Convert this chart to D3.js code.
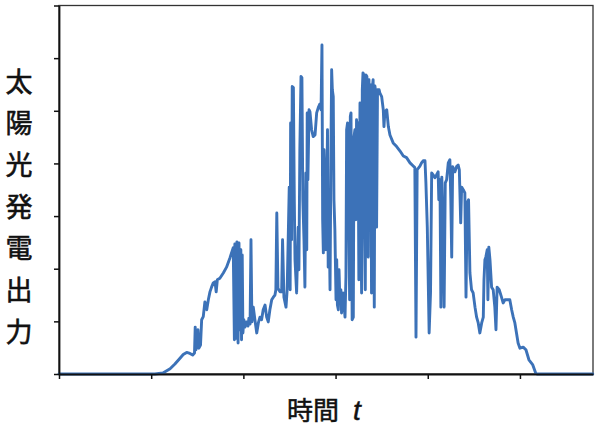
<!DOCTYPE html>
<html>
<head>
<meta charset="utf-8">
<script src="https://cdn.jsdelivr.net/npm/d3@7"></script>
<style>
  html, body { margin: 0; padding: 0; background: #fff; }
  svg { display: block; }
</style>
</head>
<body>
<svg id="chart" width="600" height="429"></svg>
<script>
// Time of day (hours) and PV output (arbitrary units, y ticks every 1 unit)
const hours = [0, 4.16, 4.51, 4.82, 5.03, 5.25, 5.39, 5.54, 5.68, 5.80, 5.88, 5.91, 5.94, 5.99, 6.03, 6.07, 6.14, 6.19, 6.26, 6.33, 6.41, 6.48, 6.55, 6.62, 6.69, 6.77, 6.82, 6.87, 6.98, 7.13, 7.27, 7.42, 7.56, 7.61, 7.63, 7.68, 7.72, 7.77, 7.81, 7.85, 7.89, 7.92, 7.95, 7.98, 8.02, 8.07, 8.13, 8.20, 8.24, 8.29, 8.33, 8.37, 8.43, 8.50, 8.58, 8.65, 8.72, 8.79, 8.86, 8.94, 9.01, 9.08, 9.15, 9.23, 9.30, 9.37, 9.41, 9.45, 9.50, 9.59, 9.66, 9.70, 9.76, 9.85, 9.90, 9.95, 9.99, 10.03, 10.05, 10.09, 10.12, 10.17, 10.21, 10.24, 10.31, 10.38, 10.41, 10.45, 10.50, 10.54, 10.58, 10.63, 10.67, 10.71, 10.75, 10.77, 10.80, 10.85, 10.89, 10.96, 11.03, 11.11, 11.18, 11.25, 11.32, 11.37, 11.41, 11.44, 11.47, 11.50, 11.54, 11.58, 11.61, 11.65, 11.68, 11.71, 11.76, 11.80, 11.83, 11.86, 11.90, 11.93, 11.97, 12.02, 12.05, 12.08, 12.12, 12.15, 12.19, 12.23, 12.26, 12.33, 12.41, 12.45, 12.48, 12.52, 12.55, 12.58, 12.61, 12.64, 12.67, 12.70, 12.72, 12.77, 12.80, 12.84, 12.88, 12.91, 12.95, 12.98, 13.01, 13.06, 13.09, 13.13, 13.16, 13.19, 13.23, 13.26, 13.29, 13.32, 13.36, 13.39, 13.42, 13.45, 13.49, 13.53, 13.56, 13.60, 13.63, 13.68, 13.71, 13.74, 13.78, 13.82, 13.85, 13.89, 13.92, 14.00, 14.07, 14.10, 14.14, 14.22, 14.29, 14.36, 14.50, 14.65, 14.79, 14.94, 15.08, 15.23, 15.37, 15.44, 15.49, 15.54, 15.66, 15.73, 15.80, 15.88, 15.92, 15.98, 16.06, 16.12, 16.17, 16.24, 16.31, 16.38, 16.45, 16.48, 16.53, 16.57, 16.61, 16.67, 16.71, 16.76, 16.82, 16.89, 16.96, 17.00, 17.04, 17.08, 17.18, 17.25, 17.32, 17.37, 17.43, 17.47, 17.54, 17.61, 17.66, 17.71, 17.77, 17.83, 17.90, 17.97, 18.05, 18.12, 18.19, 18.26, 18.34, 18.41, 18.44, 18.48, 18.52, 18.58, 18.61, 18.65, 18.70, 18.77, 18.84, 18.91, 18.96, 19.01, 19.10, 19.20, 19.27, 19.35, 19.49, 19.56, 19.64, 19.71, 19.78, 19.85, 19.92, 20.00, 20.14, 20.26, 20.39, 20.55, 20.69, 20.74, 23.16];
const output = [0, 0, 0.02, 0.10, 0.19, 0.30, 0.37, 0.41, 0.39, 0.36, 0.40, 0.89, 0.46, 0.53, 0.84, 0.49, 0.55, 1.03, 1.09, 1.37, 1.22, 1.41, 1.56, 1.65, 1.73, 1.75, 1.56, 1.79, 1.82, 1.92, 2.03, 2.21, 2.40, 0.65, 2.47, 0.68, 2.51, 0.59, 2.49, 0.84, 2.36, 0.65, 2.26, 0.78, 1.03, 0.89, 0.99, 0.91, 1.06, 0.95, 2.55, 0.99, 1.27, 1.03, 0.78, 0.97, 1.08, 1.03, 1.22, 1.31, 1.08, 0.99, 1.22, 1.41, 1.46, 1.50, 1.60, 3.06, 1.63, 1.56, 1.56, 2.55, 1.46, 1.27, 1.60, 2.68, 3.55, 1.60, 4.77, 2.55, 5.46, 5.44, 3.31, 2.17, 1.54, 2.79, 1.98, 4.26, 5.65, 5.63, 3.31, 2.55, 1.65, 3.82, 2.36, 4.96, 3.69, 5.02, 4.98, 4.64, 4.51, 4.54, 4.96, 5.06, 5.13, 5.02, 6.25, 2.93, 2.30, 4.26, 3.63, 2.36, 3.06, 4.64, 2.03, 3.31, 1.60, 4.26, 5.78, 5.40, 5.27, 3.31, 2.74, 1.41, 2.17, 1.31, 1.22, 1.98, 1.35, 1.60, 1.16, 1.54, 1.08, 1.84, 4.64, 4.77, 3.31, 2.74, 1.41, 4.89, 4.96, 2.36, 1.03, 1.08, 4.51, 4.64, 2.93, 4.83, 3.31, 4.77, 1.79, 5.15, 3.31, 1.54, 5.40, 5.72, 5.68, 2.74, 1.60, 5.68, 5.65, 3.31, 2.22, 5.59, 2.74, 5.49, 1.54, 5.46, 5.59, 1.27, 5.47, 5.34, 2.79, 5.40, 5.40, 5.40, 5.34, 5.27, 5.02, 4.70, 4.98, 5.02, 4.70, 4.54, 4.39, 4.32, 4.24, 4.14, 4.11, 4.01, 3.95, 3.92, 0.70, 3.88, 3.95, 4.01, 4.05, 4.05, 3.63, 2.79, 0.78, 1.54, 3.82, 3.78, 3.73, 3.78, 3.84, 3.31, 3.69, 1.27, 3.74, 2.49, 1.27, 3.63, 3.69, 4.01, 4.07, 3.31, 2.22, 3.94, 3.84, 3.94, 3.97, 3.88, 2.87, 3.55, 3.50, 3.44, 1.46, 3.25, 3.31, 1.92, 1.60, 1.54, 1.27, 1.08, 0.97, 0.78, 0.97, 1.08, 1.79, 2.17, 2.22, 2.36, 1.41, 2.41, 2.17, 1.65, 1.60, 1.27, 0.84, 1.65, 1.60, 1.46, 1.35, 1.41, 1.41, 1.41, 1.22, 1.08, 0.97, 0.78, 0.59, 0.49, 0.51, 0.46, 0.27, 0.18, 0.01, 0, 0];
const xTicks = [0, 4, 8, 12, 16, 20];
const yTicks = [0, 1, 2, 3, 4, 5, 6, 7];
const yLabelChars = ["太", "陽", "光", "発", "電", "出", "力"];
const xLabelMain = "時間";
const xLabelVar = "t";

(function () {
const svg = d3.select("#chart");
const mLeft = 59, mRight = 593, mTop = 5.5, mBottom = 374;
const xMax = 23.17;

const x = d3.scaleLinear().domain([0, xMax]).range([mLeft, mRight]);
const y = d3.scaleLinear().domain([0, 7]).range([mBottom, mTop]);

// frame (top & right)
svg.append("rect")
  .attr("x", x(0)).attr("y", y(7))
  .attr("width", x(xMax) - x(0)).attr("height", y(0) - y(7))
  .attr("fill", "none").attr("stroke", "#333").attr("stroke-width", 1.3);

// data line
const data = hours.map((h, i) => [h, output[i]]);
svg.append("path")
  .datum(data)
  .attr("d", d3.line().x(d => x(d[0])).y(d => y(d[1])))
  .attr("fill", "none")
  .attr("stroke", "#3c72b8")
  .attr("stroke-width", 2.9)
  .attr("stroke-linejoin", "round")
  .attr("stroke-linecap", "round");

// axes
const yAxis = svg.append("g")
  .attr("transform", `translate(${mLeft},0)`)
  .call(d3.axisLeft(y).tickValues(yTicks).tickSize(5).tickSizeOuter(0).tickFormat(""));
const xAxis = svg.append("g")
  .attr("transform", `translate(0,${mBottom})`)
  .call(d3.axisBottom(x).tickValues(xTicks).tickSize(5).tickSizeOuter(0).tickFormat(""));
[yAxis, xAxis].forEach(g => {
  g.select(".domain").attr("stroke", "#111").attr("stroke-width", 1.8);
  g.selectAll(".tick line").attr("stroke", "#111").attr("stroke-width", 1.5);
});

// y label (stacked characters)
const yl = svg.append("g");
yLabelChars.forEach((c, i) => {
  yl.append("text")
    .attr("x", 19)
    .attr("y", 80 + i * 41.7)
    .attr("text-anchor", "middle")
    .attr("dominant-baseline", "central")
    .attr("font-family", "'Noto Sans CJK JP', sans-serif")
    .attr("font-size", 27)
    .attr("fill", "#111")
    .attr("stroke", "#111")
    .attr("stroke-width", 0.6)
    .text(c);
});

// x label
const xl = svg.append("text")
  .attr("x", 324)
  .attr("y", 420)
  .attr("text-anchor", "middle")
  .attr("font-family", "'Noto Sans CJK JP', sans-serif")
  .attr("font-size", 26)
  .attr("fill", "#111")
  .attr("stroke", "#111")
  .attr("stroke-width", 0.5);
xl.append("tspan").text(xLabelMain);
xl.append("tspan")
  .attr("dx", 14)
  .attr("font-family", "'Liberation Sans', Arial, sans-serif")
  .attr("font-style", "italic")
  .attr("font-size", 28)
  .text(xLabelVar);
})();
</script>
</body>
</html>
